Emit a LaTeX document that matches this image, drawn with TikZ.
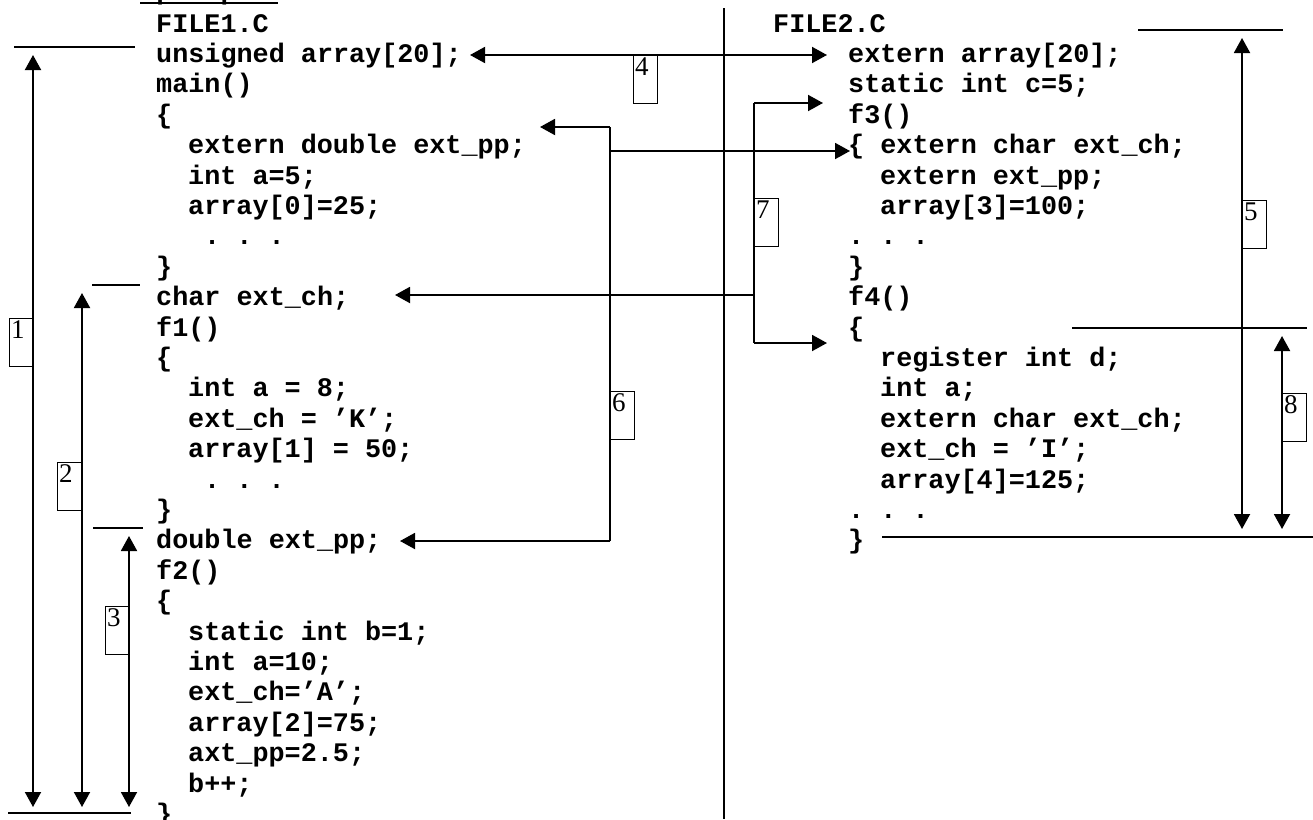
\documentclass[tikz,border=0pt]{standalone}
\usepackage{fontspec}
\setmainfont{Liberation Serif}
\newfontfamily\codefont{Liberation Mono}
\usetikzlibrary{arrows.meta}
\begin{document}
\begin{tikzpicture}[x=1pt,y=-1pt,
  code/.style={anchor=base west, inner sep=0pt, font=\codefont\bfseries\fontsize{26.8}{30}\selectfont\frenchspacing},
  num/.style={draw, line width=1.2pt, anchor=north west, inner xsep=1.5pt, inner ysep=1pt, text width=21pt, align=left, text height=19pt, text depth=27pt, font=\fontsize{27}{27}\selectfont},
  ln/.style={line width=1.9pt},
  arr/.style={ln, -{Triangle[length=15pt,width=16pt]}},
  darr/.style={ln, {Triangle[length=15pt,width=16pt]}-{Triangle[length=15pt,width=16pt]}}]
\useasboundingbox (0,0) rectangle (1313,819);
% title (mostly cut off at the top edge)
\node[code] (title) at (140,-0.5) {Пример 1};
\coordinate (u1) at (140,3); \coordinate (u2) at (278,3);
\draw[line width=2pt] (u1) -- (u2);
% left file
\node[code] (L0) at (156,32.0) {FILE1.C};
\node[code] (L1) at (156,62.4) {unsigned array[20];};
\node[code] (L2) at (156,92.8) {main()};
\node[code] (L3) at (156,123.2) {\{};
\node[code] (L4) at (188,153.6) {extern double ext\_pp;};
\node[code] (L5) at (188,184.0) {int a=5;};
\node[code] (L6) at (188,214.4) {array[0]=25;};
\node[code] (L7) at (204,244.8) {. . .};
\node[code] (L8) at (156,275.2) {\}};
\node[code] (L9) at (156,305.6) {char ext\_ch;};
\node[code] (L10) at (156,336.0) {f1()};
\node[code] (L11) at (156,366.4) {\{};
\node[code] (L12) at (188,396.8) {int a = 8;};
\node[code] (L13) at (188,427.2) {ext\_ch = ’K’;};
\node[code] (L14) at (188,457.6) {array[1] = 50;};
\node[code] (L15) at (204,488.0) {. . .};
\node[code] (L16) at (156,518.4) {\}};
\node[code] (L17) at (156,548.8) {double ext\_pp;};
\node[code] (L18) at (156,579.2) {f2()};
\node[code] (L19) at (156,609.6) {\{};
\node[code] (L20) at (188,640.0) {static int b=1;};
\node[code] (L21) at (188,670.4) {int a=10;};
\node[code] (L22) at (188,700.8) {ext\_ch=’A’;};
\node[code] (L23) at (188,731.2) {array[2]=75;};
\node[code] (L24) at (188,761.6) {axt\_pp=2.5;};
\node[code] (L25) at (188,792.0) {b++;};
\node[code] (L26) at (156,822.4) {\}};
% right file
\node[code] (R0) at (773,32.0) {FILE2.C};
\node[code] (R1) at (848,62.4) {extern array[20];};
\node[code] (R2) at (848,92.8) {static int c=5;};
\node[code] (R3) at (848,123.2) {f3()};
\node[code] (R4) at (848,153.6) {\{ extern char ext\_ch;};
\node[code] (R5) at (880,184.0) {extern ext\_pp;};
\node[code] (R6) at (880,214.4) {array[3]=100;};
\node[code] (R7) at (848,244.8) {. . .};
\node[code] (R8) at (848,275.2) {\}};
\node[code] (R9) at (848,305.6) {f4()};
\node[code] (R10) at (848,336.0) {\{};
\node[code] (R11) at (880,366.4) {register int d;};
\node[code] (R12) at (880,396.8) {int a;};
\node[code] (R13) at (880,427.2) {extern char ext\_ch;};
\node[code] (R14) at (880,457.6) {ext\_ch = ’I’;};
\node[code] (R15) at (880,488.0) {array[4]=125;};
\node[code] (R16) at (848,518.4) {. . .};
\node[code] (R17) at (848,548.8) {\}};
% separator
\coordinate (s1) at (724,8); \coordinate (s2) at (724,819);
\draw[ln] (s1) -- (s2);
% scope brackets, left
\coordinate (h1a) at (14,47);  \coordinate (h1b) at (135,47);
\coordinate (h2a) at (92,285); \coordinate (h2b) at (140,285);
\coordinate (h3a) at (93,528); \coordinate (h3b) at (143,528);
\coordinate (hba) at (8,813);  \coordinate (hbb) at (131,813);
\draw[ln] (h1a) -- (h1b); \draw[ln] (h2a) -- (h2b); \draw[ln] (h3a) -- (h3b); \draw[ln] (hba) -- (hbb);
\coordinate (a1t) at (33,55);  \coordinate (a1b) at (33,807);
\coordinate (a2t) at (82,293); \coordinate (a2b) at (82,807);
\coordinate (a3t) at (129,536); \coordinate (a3b) at (129,807);
\draw[darr] (a1t) -- (a1b);
\draw[darr] (a2t) -- (a2b);
\draw[darr] (a3t) -- (a3b);
\node[num] (n1) at (9,318) {1};
\node[num] (n2) at (57,462) {2};
\node[num] (n3) at (105,606) {3};
% arrow 4
\coordinate (a4l) at (470,55); \coordinate (a4r) at (827,55);
\draw[darr] (a4l) -- (a4r);
\node[num] (n4) at (633,55) {4};
% arrow 6
\coordinate (j6t) at (610,127); \coordinate (j6m) at (610,151); \coordinate (j6b) at (610,541);
\coordinate (t6a) at (540,127); \coordinate (t6b) at (400,541); \coordinate (t6c) at (850,151);
\draw[ln] (j6t) -- (j6b);
\draw[arr] (j6t) -- (t6a);
\draw[arr] (j6b) -- (t6b);
\draw[arr] (j6m) -- (t6c);
\node[num] (n6) at (610,391) {6};
% arrow 7
\coordinate (j7t) at (754,103); \coordinate (j7m) at (754,295); \coordinate (j7b) at (754,343);
\coordinate (t7a) at (823,103); \coordinate (t7b) at (395,295); \coordinate (t7c) at (827,343);
\draw[ln] (j7t) -- (j7b);
\draw[arr] (j7t) -- (t7a);
\draw[arr] (j7m) -- (t7b);
\draw[arr] (j7b) -- (t7c);
\node[num] (n7) at (754,198) {7};
% brackets, right
\coordinate (h5a) at (1138,30); \coordinate (h5b) at (1283,30);
\coordinate (h8a) at (1072,328); \coordinate (h8b) at (1307,328);
\coordinate (hra) at (882,537); \coordinate (hrb) at (1313,537);
\draw[ln] (h5a) -- (h5b); \draw[ln] (h8a) -- (h8b); \draw[ln] (hra) -- (hrb);
\coordinate (a5t) at (1242,38); \coordinate (a5b) at (1242,529);
\coordinate (a8t) at (1282,336); \coordinate (a8b) at (1282,529);
\draw[darr] (a5t) -- (a5b);
\draw[darr] (a8t) -- (a8b);
\node[num] (n5) at (1242,200) {5};
\node[num] (n8) at (1282,393) {8};
\end{tikzpicture}
\end{document}
